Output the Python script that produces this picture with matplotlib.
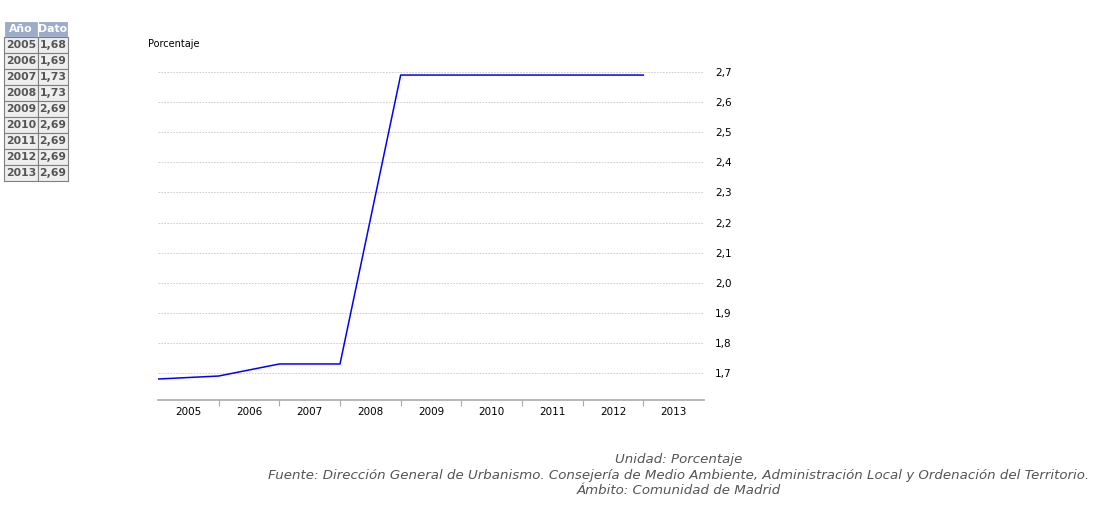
import matplotlib
matplotlib.use("Agg")
import matplotlib.pyplot as plt
from matplotlib.ticker import FixedLocator, NullFormatter

# data
years = ["2005", "2006", "2007", "2008", "2009", "2010", "2011", "2012", "2013"]
values = [1.68, 1.69, 1.73, 1.73, 2.69, 2.69, 2.69, 2.69, 2.69]
y_ticks = [1.7, 1.8, 1.9, 2.0, 2.1, 2.2, 2.3, 2.4, 2.5, 2.6, 2.7]

W, H = 1116, 507
fig = plt.figure(figsize=(W / 100, H / 100), dpi=100)


def px(left, top, right, bottom):
    # pixel box -> figure fraction rect
    return [left / W, 1 - bottom / H, (right - left) / W, (bottom - top) / H]


# main plot
ax = fig.add_axes(px(158, 60, 704, 400))
xs = list(range(len(values)))
ax.plot(xs, values, color="#0000ff", lw=1.1)
ax.set_xlim(0, len(years))
ax.set_ylim(1.6103, 2.74)

ax.yaxis.tick_right()
ax.set_yticks(y_ticks)
ax.set_yticklabels([f"{v:.1f}".replace(".", ",") for v in y_ticks])
ax.tick_params(axis="y", length=0, pad=8, labelsize=7.5)
ax.grid(axis="y", color="#c8c8c8", ls=(0, (2, 1.5)), lw=0.6)

ax.set_xticks([i + 0.5 for i in xs])
ax.set_xticklabels(years)
ax.tick_params(axis="x", which="major", length=0, pad=5, labelsize=7.5)
ax.xaxis.set_minor_locator(FixedLocator(list(range(1, len(years)))))
ax.xaxis.set_minor_formatter(NullFormatter())
ax.tick_params(axis="x", which="minor", length=4, color="#aaaaaa", width=0.8)

for side in ["top", "left", "right"]:
    ax.spines[side].set_visible(False)
ax.spines["bottom"].set_color("#aaaaaa")
ax.spines["bottom"].set_linewidth(1.2)

fig.text(148 / W, 1 - 44 / H, "Porcentaje", fontsize=7, va="center", ha="left")

# data table top-left
tab_ax = fig.add_axes(px(4, 21, 68, 181))
tab_ax.axis("off")
cells = [[y, f"{v:.2f}".replace(".", ",")] for y, v in zip(years, values)]
tab = tab_ax.table(cellText=cells, colLabels=["Año", "Dato"],
                   colWidths=[34 / 64, 30 / 64], bbox=[0, 0, 1, 1],
                   cellLoc="center")
tab.auto_set_font_size(False)
for (r, c), cell in tab.get_celld().items():
    cell.set_linewidth(0.8)
    cell.PAD = 0.02
    txt = cell.get_text()
    txt.set_fontsize(7.8)
    txt.set_fontweight("bold")
    if r == 0:
        cell.set_facecolor("#9dadc9")
        cell.set_edgecolor("#ffffff")
        txt.set_color("white")
    else:
        cell.set_facecolor("#eeeeee")
        cell.set_edgecolor("#808080")
        txt.set_color("#555555")

# footer notes
notes = [
    "Unidad: Porcentaje",
    "Fuente: Dirección General de Urbanismo. Consejería de Medio Ambiente, Administración Local y Ordenación del Territorio.",
    "Ámbito: Comunidad de Madrid",
]
for i, line in enumerate(notes):
    fig.text(679 / W, 1 - (459 + 16 * i) / H, line, fontsize=9.6, style="italic",
             color="#555555", ha="center", va="center")

fig.savefig("out.png", dpi=100)
